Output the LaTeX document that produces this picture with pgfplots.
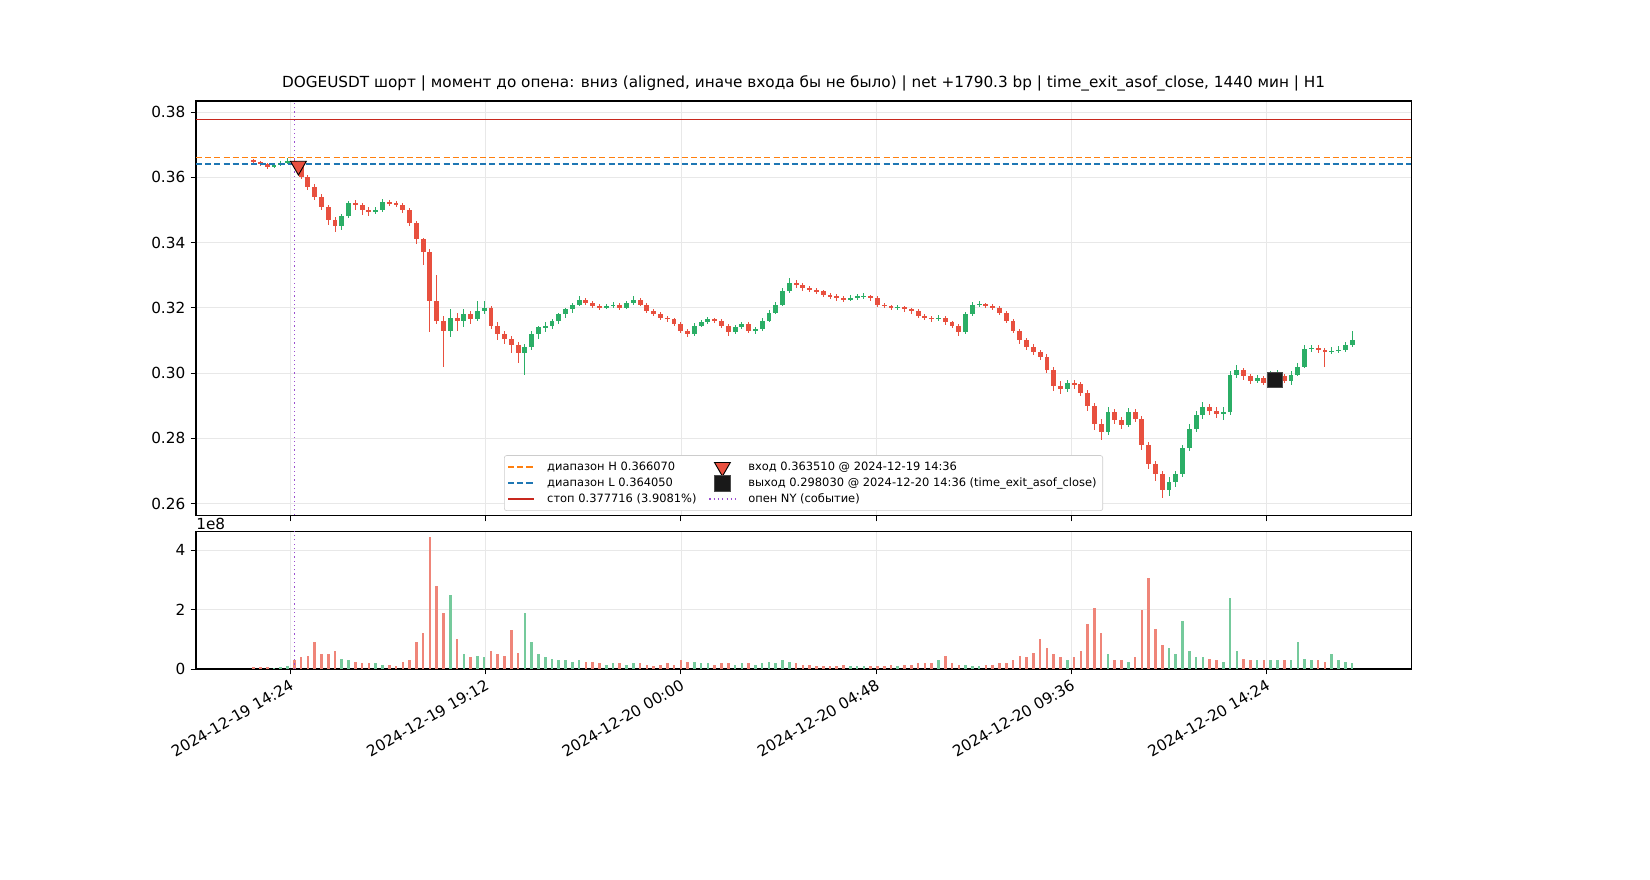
\documentclass[border=0pt]{standalone}
\usepackage{pgfplots}
\usepackage{pgfplotstable}
\pgfplotsset{compat=1.18}
\usepackage{fontspec}
\setmainfont{DejaVu Sans}
\definecolor{cgreen}{HTML}{2BAE66}
\definecolor{cred}{HTML}{E8503F}
\definecolor{cstop}{HTML}{C8281E}
\definecolor{corange}{HTML}{FF7F0E}
\definecolor{cblue}{HTML}{1F77B4}
\definecolor{cpurple}{HTML}{9B4FD0}
\pgfplotstableread{
m o h l c v
810 .3652 .3656 .3644 .3648 .08
820 .3648 .3650 .3636 .3640 .07
830 .3640 .3643 .3627 .3632 .06
840 .3632 .3642 .3630 .3638 .05
850 .3638 .3650 .3635 .3645 .06
860 .3645 .3660 .3642 .3650 .10
870 .3650 .3656 .3634 .3640 .30
880 .3640 .3645 .3594 .3600 .40
890 .3600 .3606 .3562 .3570 .45
900 .3570 .3578 .3530 .3540 .90
910 .3540 .3548 .3500 .3510 .50
920 .3510 .3516 .3455 .3470 .50
930 .3470 .3478 .3432 .3450 .60
940 .3450 .3488 .3440 .3480 .35
950 .3480 .3528 .3475 .3520 .30
960 .3520 .3530 .3500 .3515 .25
970 .3515 .3520 .3485 .3500 .20
980 .3500 .3510 .3480 .3495 .20
990 .3495 .3508 .3488 .3500 .20
1000 .3500 .3532 .3495 .3525 .15
1010 .3525 .3530 .3512 .3520 .15
1020 .3520 .3526 .3508 .3515 .10
1030 .3515 .3520 .3490 .3500 .25
1040 .3500 .3505 .3450 .3460 .30
1050 .3460 .3466 .3395 .3410 .90
1060 .3410 .3415 .3330 .3370 1.20
1070 .3370 .3380 .3125 .3220 4.45
1080 .3220 .3300 .3150 .3160 2.80
1090 .3160 .3175 .3020 .3130 1.90
1100 .3130 .3195 .3110 .3170 2.50
1110 .3170 .3185 .3130 .3160 1.00
1120 .3160 .3195 .3140 .3180 .50
1130 .3180 .3190 .3150 .3165 .40
1140 .3165 .3222 .3160 .3190 .45
1150 .3190 .3222 .3180 .3200 .40
1160 .3200 .3205 .3135 .3145 .60
1170 .3145 .3155 .3100 .3120 .50
1180 .3120 .3130 .3090 .3105 .45
1190 .3105 .3115 .3060 .3085 1.30
1200 .3085 .3095 .3030 .3060 .55
1210 .3060 .3090 .2995 .3080 1.90
1220 .3080 .3128 .3070 .3120 .90
1230 .3120 .3145 .3105 .3140 .50
1240 .3140 .3155 .3125 .3145 .40
1250 .3145 .3165 .3135 .3160 .35
1260 .3160 .3185 .3150 .3180 .30
1270 .3180 .3200 .3170 .3195 .30
1280 .3195 .3215 .3185 .3210 .25
1290 .3210 .3235 .3205 .3225 .30
1300 .3225 .3230 .3208 .3215 .25
1310 .3215 .3222 .3198 .3205 .25
1320 .3205 .3212 .3192 .3200 .20
1330 .3200 .3212 .3195 .3205 .15
1340 .3205 .3218 .3198 .3210 .20
1350 .3210 .3215 .3194 .3200 .20
1360 .3200 .3222 .3196 .3215 .15
1370 .3215 .3235 .3210 .3225 .20
1380 .3225 .3230 .3204 .3210 .20
1390 .3210 .3215 .3184 .3190 .15
1400 .3190 .3196 .3174 .3180 .10
1410 .3180 .3186 .3164 .3170 .15
1420 .3170 .3176 .3158 .3165 .20
1430 .3165 .3170 .3144 .3150 .15
1440 .3150 .3156 .3122 .3130 .30
1450 .3130 .3136 .3110 .3120 .25
1460 .3120 .3152 .3115 .3145 .25
1470 .3145 .3162 .3140 .3155 .20
1480 .3155 .3172 .3150 .3165 .20
1490 .3165 .3170 .3152 .3160 .15
1500 .3160 .3166 .3138 .3145 .20
1510 .3145 .3150 .3115 .3125 .20
1520 .3125 .3148 .3120 .3140 .15
1530 .3140 .3158 .3135 .3150 .20
1540 .3150 .3156 .3122 .3130 .20
1550 .3130 .3142 .3120 .3135 .15
1560 .3135 .3168 .3130 .3160 .20
1570 .3160 .3192 .3155 .3185 .25
1580 .3185 .3218 .3180 .3210 .20
1590 .3210 .3262 .3205 .3250 .30
1600 .3250 .3290 .3245 .3275 .25
1610 .3275 .3285 .3262 .3270 .20
1620 .3270 .3276 .3252 .3260 .15
1630 .3260 .3268 .3248 .3255 .15
1640 .3255 .3262 .3242 .3250 .10
1650 .3250 .3256 .3232 .3240 .10
1660 .3240 .3246 .3228 .3235 .10
1670 .3235 .3242 .3222 .3230 .10
1680 .3230 .3236 .3218 .3225 .15
1690 .3225 .3238 .3220 .3230 .10
1700 .3230 .3242 .3225 .3235 .10
1710 .3235 .3244 .3226 .3236 .10
1720 .3236 .3240 .3222 .3230 .10
1730 .3230 .3236 .3202 .3210 .10
1740 .3210 .3216 .3198 .3205 .10
1750 .3205 .3210 .3192 .3200 .15
1760 .3200 .3208 .3192 .3202 .10
1770 .3202 .3205 .3188 .3195 .15
1780 .3195 .3200 .3182 .3190 .15
1790 .3190 .3196 .3168 .3175 .20
1800 .3175 .3182 .3162 .3170 .20
1810 .3170 .3176 .3158 .3165 .20
1820 .3165 .3178 .3160 .3170 .30
1830 .3170 .3175 .3148 .3155 .45
1840 .3155 .3160 .3138 .3145 .20
1850 .3145 .3150 .3115 .3125 .15
1860 .3125 .3188 .3120 .3180 .15
1870 .3180 .3218 .3175 .3210 .10
1880 .3210 .3220 .3202 .3212 .10
1890 .3212 .3216 .3198 .3205 .15
1900 .3205 .3212 .3194 .3200 .15
1910 .3200 .3206 .3178 .3185 .20
1920 .3185 .3190 .3152 .3160 .20
1930 .3160 .3166 .3122 .3130 .30
1940 .3130 .3136 .3090 .3100 .45
1950 .3100 .3108 .3072 .3080 .40
1960 .3080 .3088 .3055 .3065 .55
1970 .3065 .3072 .3040 .3050 1.00
1980 .3050 .3058 .3000 .3010 .70
1990 .3010 .3018 .2945 .2960 .50
2000 .2960 .2975 .2935 .2950 .40
2010 .2950 .2980 .2942 .2970 .30
2020 .2970 .2978 .2950 .2965 .40
2030 .2965 .2972 .2930 .2940 .60
2040 .2940 .2948 .2885 .2900 1.50
2050 .2900 .2908 .2825 .2845 2.05
2060 .2845 .2860 .2795 .2820 1.20
2070 .2820 .2895 .2810 .2880 .50
2080 .2880 .2890 .2845 .2855 .30
2090 .2855 .2865 .2830 .2840 .30
2100 .2840 .2892 .2835 .2880 .25
2110 .2880 .2890 .2850 .2860 .40
2120 .2860 .2868 .2765 .2780 2.00
2130 .2780 .2790 .2705 .2720 3.05
2140 .2720 .2730 .2670 .2690 1.35
2150 .2690 .2700 .2618 .2640 .80
2160 .2640 .2680 .2622 .2665 .70
2170 .2665 .2700 .2650 .2690 .50
2180 .2690 .2780 .2680 .2770 1.60
2190 .2770 .2845 .2760 .2830 .60
2200 .2830 .2885 .2820 .2870 .40
2210 .2870 .2910 .2860 .2895 .40
2220 .2895 .2905 .2870 .2885 .35
2230 .2885 .2895 .2862 .2875 .30
2240 .2875 .2895 .2855 .2880 .25
2250 .2880 .3005 .2870 .2995 2.40
2260 .2995 .3025 .2985 .3010 .60
2270 .3010 .3015 .2980 .2990 .35
2280 .2990 .2998 .2965 .2975 .30
2290 .2975 .2995 .2968 .2985 .30
2300 .2985 .2992 .2962 .2970 .30
2310 .2970 .3005 .2955 .2985 .30
2320 .2985 .3008 .2978 .2990 .30
2330 .2990 .2996 .2968 .2975 .30
2340 .2975 .3005 .2962 .2995 .30
2350 .2995 .3030 .2990 .3020 .90
2360 .3020 .3085 .3015 .3075 .35
2370 .3075 .3085 .3065 .3078 .30
2380 .3078 .3085 .3062 .3070 .30
2390 .3070 .3078 .3020 .3065 .25
2400 .3065 .3080 .3058 .3068 .50
2410 .3068 .3082 .3062 .3072 .30
2420 .3072 .3095 .3065 .3085 .25
2430 .3085 .3128 .3080 .3100 .20
}\candles
\pgfplotsset{
  common/.style={scale only axis, width=795.3pt, xmin=725, xmax=2517,
    xtick={864,1152,1440,1728,2016,2304},
    grid=major, grid style={gray!18, line width=0.4pt},
    tick style={black, line width=0.6pt}, major tick length=3.5pt,
    tick pos=left, tick align=outside,
    ticklabel style={font=\fontsize{10}{12}\selectfont},
    /pgf/number format/assume math mode=true,
    axis line style={line width=0.7pt}},
  wick/.style={draw=none, mark=none, forget plot, error bars/.cd, y dir=both, y explicit,
    error mark=none, error bar style={draw=#1, line width=0.6pt}},
  body/.style={draw=none, mark=none, forget plot, error bars/.cd, y dir=both, y explicit,
    error mark=none, error bar style={draw=#1, line width=3.2pt}},
}
\begin{document}
\begin{tikzpicture}
\begin{axis}[common, height=271.6pt, at={(128.3pt,238.3pt)}, anchor=south west,
  ymin=0.2562, ymax=0.3834, ytick={0.26,0.28,...,0.381},
  yticklabel style={/pgf/number format/fixed, /pgf/number format/precision=2, /pgf/number format/fixed zerofill},
  xticklabels={},
  title={DOGEUSDT шорт | момент до опена: вниз (aligned, иначе входа бы не было) | net +1790.3 bp | time\_exit\_asof\_close, 1440 мин | H1},
  title style={font=\fontsize{10}{12}\selectfont, yshift=-3pt},
  legend columns=2,
  legend style={at={(0.5,0.012)}, anchor=south, font=\fontsize{7.5}{9}\selectfont,
    draw=gray!40, rounded corners=1.5pt, row sep=-1pt, column sep=6pt,
    cells={anchor=west}, inner sep=2pt},
  legend cell align=left,
]
\addplot[wick=cgreen] table[x=m, y expr={(\thisrow{h}+\thisrow{l})/2}, y error expr={(\thisrow{h}-\thisrow{l})/2}, restrict expr to domain={\thisrow{c}-\thisrow{o}}{0:1}] {\candles};
\addplot[body=cgreen] table[x=m, y expr={(\thisrow{o}+\thisrow{c})/2}, y error expr={max(abs(\thisrow{c}-\thisrow{o})/2,0.00012)}, restrict expr to domain={\thisrow{c}-\thisrow{o}}{0:1}] {\candles};
\addplot[wick=cred] table[x=m, y expr={(\thisrow{h}+\thisrow{l})/2}, y error expr={(\thisrow{h}-\thisrow{l})/2}, restrict expr to domain={\thisrow{c}-\thisrow{o}}{-1:-0.00001}] {\candles};
\addplot[body=cred] table[x=m, y expr={(\thisrow{o}+\thisrow{c})/2}, y error expr={max(abs(\thisrow{c}-\thisrow{o})/2,0.00012)}, restrict expr to domain={\thisrow{c}-\thisrow{o}}{-1:-0.00001}] {\candles};
\addplot[corange, line width=1pt, dash pattern=on 4pt off 2pt] coordinates {(725,0.36607) (2517,0.36607)};
\addlegendentry{диапазон H 0.366070}
\addplot[only marks, mark=triangle*, mark size=6pt, mark options={rotate=180, fill=cred, draw=black, line width=0.6pt}] coordinates {(876,0.36351)};
\addlegendentry{вход 0.363510 @ 2024-12-19 14:36}
\addplot[cblue, line width=1pt, dash pattern=on 4pt off 2pt] coordinates {(725,0.36405) (2517,0.36405)};
\addlegendentry{диапазон L 0.364050}
\addplot[only marks, mark=square*, mark size=5pt, mark options={fill=black!90, draw=black!70}] coordinates {(2316,0.29803)};
\addlegendentry{выход 0.298030 @ 2024-12-20 14:36 (time\_exit\_asof\_close)}
\addplot[cstop, line width=1pt] coordinates {(725,0.377716) (2517,0.377716)};
\addlegendentry{стоп 0.377716 (3.9081\%)}
\addplot[cpurple, dotted, line width=0.8pt] coordinates {(870,0.25) (870,0.39)};
\addlegendentry{опен NY (событие)}
\end{axis}
\begin{axis}[common, height=90.3pt, at={(128.3pt,138.1pt)}, anchor=south west,
  ymin=0, ymax=4.64, ytick={0,2,4},
  xticklabels={2024-12-19 14:24,2024-12-19 19:12,2024-12-20 00:00,2024-12-20 04:48,2024-12-20 09:36,2024-12-20 14:24},
  xticklabel style={rotate=30, anchor=north east, inner sep=2pt},
  after end axis/.code={\node[anchor=south west, inner sep=0pt, font=\fontsize{10}{12}\selectfont] at (rel axis cs:0,1.005) {1e8};},
]
\addplot[ycomb, cgreen!65, line width=1.7pt, mark=none, restrict expr to domain={\thisrow{c}-\thisrow{o}}{0:1}] table[x=m, y=v] {\candles};
\addplot[ycomb, cred!70, line width=1.7pt, mark=none, restrict expr to domain={\thisrow{c}-\thisrow{o}}{-1:-0.00001}] table[x=m, y=v] {\candles};
\addplot[cpurple, dotted, line width=0.8pt] coordinates {(870,-1) (870,6)};
\end{axis}
\pgfresetboundingbox
\path (0,0) rectangle (1080pt,576pt);
\end{tikzpicture}
\end{document}
